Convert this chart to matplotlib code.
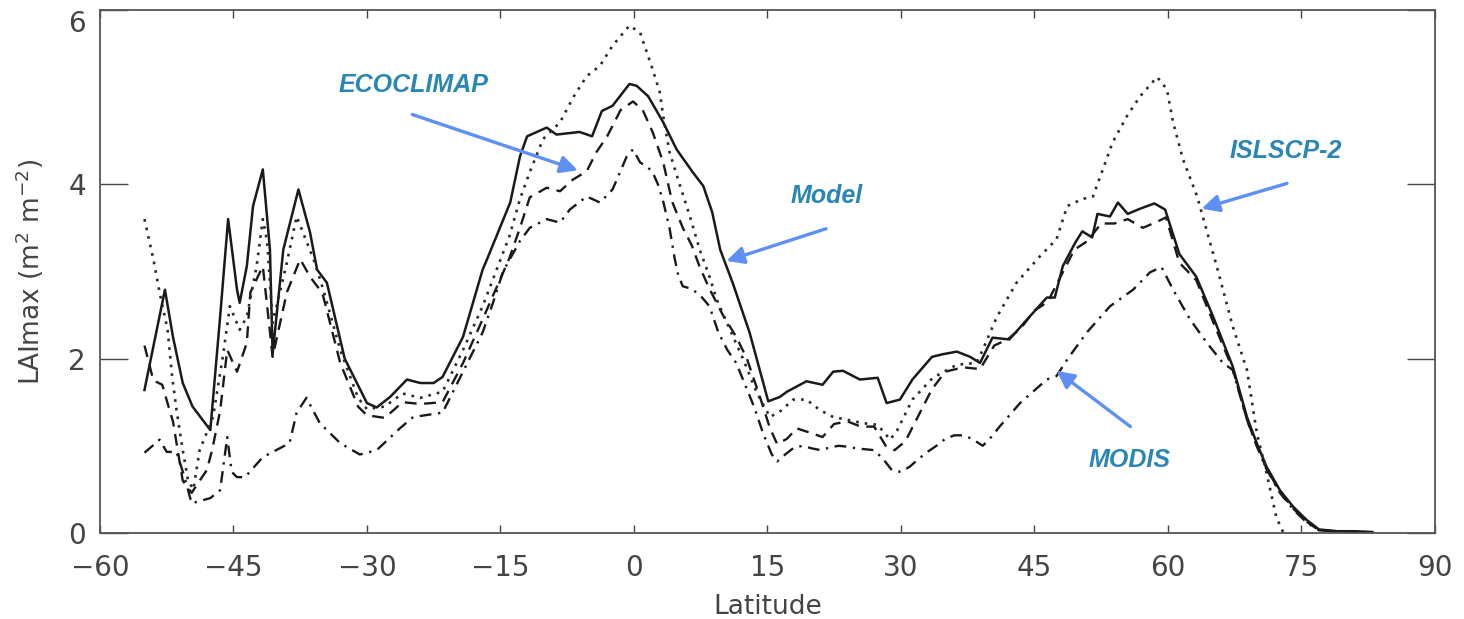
import matplotlib
matplotlib.use("Agg")
import matplotlib.pyplot as plt

# ---------------- data ----------------
lat_model = [-55, -52.7, -51.8, -50.7, -49.6, -47.6, -46.5, -45.6, -44.6, -44.3, -43.5, -42.8,
             -41.7, -40.9, -40.6, -39.4, -37.7, -36.4, -35.6, -34.5, -32.5, -30, -28.9, -27.4,
             -25.5, -24, -22.5, -21.5, -19.2, -17, -16.5, -13.9, -12.8, -12.0, -9.8, -8.7, -6.1,
             -4.7, -3.6, -2.4, -0.5, 0.3, 1.6, 3.3, 4.8, 6.6, 7.8, 8.8, 9.7, 11.1, 13.0, 15.1,
             16.4, 17.2, 19.4, 21.2, 22.4, 23.5, 25.4, 27.4, 28.4, 29.9, 31.3, 33.5, 34.7, 36.3,
             37.8, 38.9, 40.3, 42.2, 44.2, 46.4, 47.3, 48.2, 49.6, 50.4, 51.5, 52.1, 53.5, 54.4,
             55.5, 56.9, 58.5, 59.7, 61.3, 63.2, 65.1, 67.3, 68.9, 70.0, 71.1, 72.6, 74.1, 75.6,
             77.0, 79, 81, 83]
lai_model = [1.64, 2.79, 2.25, 1.72, 1.45, 1.18, 2.48, 3.60, 2.79, 2.64, 3.06, 3.75,
             4.17, 3.25, 2.05, 3.25, 3.94, 3.45, 3.02, 2.87, 2.00, 1.49, 1.44, 1.56,
             1.76, 1.72, 1.72, 1.79, 2.25, 3.02, 3.14, 3.79, 4.32, 4.55, 4.65, 4.57, 4.60,
             4.55, 4.84, 4.90, 5.15, 5.13, 5.01, 4.71, 4.40, 4.14, 3.98, 3.68, 3.25, 2.87, 2.30, 1.51,
             1.56, 1.62, 1.74, 1.70, 1.85, 1.86, 1.76, 1.78, 1.49, 1.53, 1.76, 2.02, 2.05, 2.08,
             2.02, 1.95, 2.24, 2.22, 2.45, 2.70, 2.70, 3.06, 3.33, 3.46, 3.39, 3.66, 3.63, 3.79,
             3.66, 3.72, 3.78, 3.71, 3.20, 2.94, 2.48, 1.91, 1.33, 1.03, 0.76, 0.49, 0.30, 0.15,
             0.04, 0.02, 0.02, 0.01]

lat_islscp = [-55, -54, -53.3, -52.4, -51.9, -51.4, -50.7, -50.1, -49.5, -48.8, -48, -47.3,
              -46.2, -45.4, -44.3, -43.5, -42.4, -41.7, -41.2, -40.9, -40.6, -39, -37.9, -37.2,
              -36, -34.9, -33, -31, -30, -28, -26, -24, -21.5, -19.2, -17, -15.5, -14, -12.8,
              -11.7, -10.2, -8.3, -6.8, -5.3, -3.8, -2.4, -0.5, 0.7, 2.1, 2.9, 3.3, 4.0, 5.2,
              6.3, 7.4, 8.5, 9.3, 10.5, 12.3, 13.8, 15.3, 16.5, 17.9, 19.4, 20.9, 22.4, 23.9,
              25.7, 27.4, 28.8, 29.6, 31.3, 33.6, 36.3, 38.5, 39.2, 40.8, 43.0, 45.6, 47.5, 48.7,
              50.4, 51.6, 52.7, 53.8, 55.4, 56.9, 58.8, 59.9, 60.6, 61.7, 63.3, 65.5, 67.3, 68.9,
              70.0, 71.1, 72.2, 73.0]
lai_islscp = [3.60, 3.14, 2.76, 2.33, 1.80, 1.41, 0.95, 0.60, 0.50, 0.95, 1.15, 1.33,
              2.02, 2.60, 2.33, 2.48, 3.06, 3.60, 3.33, 2.87, 2.41, 3.10, 3.63, 3.45,
              3.14, 2.79, 2.10, 1.55, 1.42, 1.45, 1.60, 1.55, 1.62, 2.10, 2.60, 3.00, 3.40, 3.83,
              4.14, 4.52, 4.71, 5.00, 5.24, 5.36, 5.59, 5.82, 5.74, 5.32, 5.06, 4.78, 4.37, 3.98,
              3.63, 3.25, 2.94, 2.68, 2.40, 1.99, 1.61, 1.33, 1.40, 1.53, 1.53, 1.41, 1.33, 1.30,
              1.26, 1.24, 1.07, 1.18, 1.53, 1.78, 1.93, 1.95, 2.10, 2.48, 2.87, 3.17, 3.37, 3.75,
              3.83, 3.86, 4.17, 4.48, 4.78, 5.01, 5.23, 5.09, 4.71, 4.29, 3.86, 3.06, 2.37, 1.87,
              1.15, 0.69, 0.18, 0.00]

lat_eco = [-55, -54, -53, -52.3, -51.8, -50.7, -49.7, -49, -48, -47.4, -46.5, -45.7, -44.6,
           -43.5, -43.1, -41.7, -40.6, -39, -37.5, -36.4, -35, -33, -31, -30, -28, -26, -24,
           -21.5, -19.2, -17, -15.5, -14, -12.8, -11.7, -9.8, -8.3, -6.9, -5.3, -4.2, -3.0,
           -1.5, -0.1, 1.0, 2.1, 3.3, 4.3, 5.5, 6.5, 7.4, 8.5, 10, 11.5, 12.7, 14.2, 15.3, 16.1,
           17.2, 18.3, 19.8, 21.2, 22.5, 24, 25.5, 27, 28.3, 29.3, 30.5, 32, 33.5, 35, 37, 38.9,
           40.5, 42, 43.5, 45, 46.5, 48, 49.5, 51, 52.5, 54, 55.5, 57.2, 58.8, 59.8, 61.3, 63.2,
           65.1, 67.3, 68.9, 70, 71.1, 72.6, 74.1, 75.6, 77, 79, 81, 83]
lai_eco = [2.15, 1.75, 1.70, 1.45, 1.28, 0.60, 0.46, 0.57, 0.72, 0.95, 1.40, 2.10, 1.85,
           2.18, 2.76, 3.06, 2.02, 2.76, 3.14, 2.94, 2.75, 1.95, 1.45, 1.35, 1.32, 1.50, 1.48,
           1.50, 1.95, 2.45, 2.80, 3.15, 3.50, 3.85, 3.96, 3.92, 4.05, 4.15, 4.37, 4.55,
           4.85, 4.95, 4.85, 4.60, 4.25, 3.80, 3.50, 3.30, 3.05, 2.80, 2.50, 2.25, 2.00, 1.55, 1.20, 1.02,
           1.08, 1.20, 1.15, 1.10, 1.25, 1.28, 1.22, 1.22, 1.00, 0.95, 1.05, 1.35, 1.65, 1.85, 1.90, 1.88,
           2.15, 2.22, 2.35, 2.55, 2.65, 2.95, 3.25, 3.35, 3.55, 3.55, 3.60, 3.50, 3.57, 3.62, 3.10, 2.90,
           2.42, 1.88, 1.30, 1.00, 0.74, 0.47, 0.28, 0.13, 0.03, 0.02, 0.01, 0.01]

lat_modis = [-55, -53.3, -52.5, -51.4, -50.5, -49.7, -47.6, -46.5, -45.7, -45.2, -44.6, -43.7,
             -41.7, -38.7, -37.9, -36.8, -35.3, -33, -30.8, -28.9, -26.3, -24.8, -21.5, -19.2,
             -17, -15.8, -14.7, -12.8, -11.7, -9.8, -8.3, -7.2, -5.3, -3.8, -2.4, -0.8, -0.1,
             0.7, 1.5, 2.1, 2.7, 3.3, 4.0, 4.6, 5.0, 5.5, 6.5, 7.5, 8.5, 9.5, 10.5, 11.5, 12.5,
             13.5, 14.5, 15.5, 16.1, 17, 18, 19, 20, 21, 22, 23, 24, 25, 26, 27, 28, 29, 30, 31,
             32, 33, 34, 35, 36, 37, 38, 39.2, 40, 41.1, 43.4, 46.4, 47.5, 48.7, 50.9, 53.5,
             56.1, 58, 59.3, 60.6, 62.5, 64.4, 66.2, 67.3, 68.9, 70, 71.1, 72.6, 74.1, 75.6, 77,
             79, 81, 83]
lai_modis = [0.92, 1.07, 0.93, 0.93, 0.64, 0.34, 0.40, 0.49, 1.10, 0.70, 0.64, 0.64,
             0.87, 1.03, 1.38, 1.55, 1.26, 1.03, 0.90, 0.95, 1.20, 1.33, 1.38, 1.85,
             2.30, 2.65, 3.00, 3.35, 3.50, 3.60, 3.56, 3.71, 3.86, 3.79, 3.94, 4.32, 4.40,
             4.25, 4.20, 4.14, 4.00, 3.80, 3.50, 3.14, 2.95, 2.83, 2.80, 2.72, 2.60, 2.30, 2.10, 1.95, 1.70,
             1.45, 1.15, 0.90, 0.82, 0.90, 0.98, 1.00, 0.97, 0.95, 0.98, 1.00, 0.99, 0.97, 0.96, 0.95, 0.85, 0.72, 0.70, 0.76,
             0.85, 0.93, 1.00, 1.08, 1.12, 1.12, 1.08, 1.00, 1.08, 1.22, 1.49, 1.76, 1.80, 1.99, 2.30, 2.60,
             2.79, 2.99, 3.05, 2.79, 2.45, 2.18, 1.95, 1.87, 1.30, 1.00, 0.73, 0.46, 0.27, 0.12, 0.03,
             0.02, 0.01, 0.01]

x_ticks = [-60, -45, -30, -15, 0, 15, 30, 45, 60, 75, 90]
y_ticks = [0, 2, 4, 6]

labels = ["ECOCLIMAP", "Model", "ISLSCP-2", "MODIS"]
label_xy = [(-24.8, 5.14), (21.7, 3.87), (73.3, 4.38), (55.7, 0.84)]
arrow_tail = [(-24.9, 4.80), (21.6, 3.49), (73.4, 4.01), (55.8, 1.22)]
arrow_head = [(-6.3, 4.16), (10.4, 3.12), (63.8, 3.72), (47.5, 1.86)]

# ---------------- figure ----------------
fig = plt.figure(figsize=(14.64, 6.19), dpi=100)
ax = fig.add_axes([0.0683, 0.139, 0.9117, 0.845])

line_col = "#1a1a1a"
ax.plot(lat_model, lai_model, color=line_col, lw=1.8, ls="-")
ax.plot(lat_eco, lai_eco, color=line_col, lw=1.7, ls=(0, (5, 3.2)))
ax.plot(lat_islscp, lai_islscp, color="#2a2a2a", lw=1.9, ls=(0, (1, 2.3)))
ax.plot(lat_modis, lai_modis, color=line_col, lw=1.7, ls=(0, (5, 2.8, 1, 2.8)))

ax.set_xlim(-60, 90)
ax.set_ylim(0, 6)
ax.set_xticks(x_ticks)
ax.set_xticklabels([str(t).replace("-", "\u2212") for t in x_ticks])
ax.set_yticks(y_ticks)
ax.set_yticklabels([str(t) for t in y_ticks])

tick_col = "#444444"
for s in ax.spines.values():
    s.set_color("#555555")
    s.set_linewidth(1.3)
ax.tick_params(axis="x", direction="in", length=6, width=1.0, top=True, bottom=True,
               labelsize=20, pad=15, colors=tick_col)
ax.tick_params(axis="y", direction="in", length=20, width=1.0, left=True, right=True,
               labelsize=20, pad=10, colors=tick_col)
ax.get_yticklabels()[-1].set_va("top")

ax.set_xlabel("Latitude", fontsize=19, color=tick_col, labelpad=9)
ax.set_ylabel("LAImax (m$^{2}$ m$^{-2}$)", fontsize=19, color=tick_col, labelpad=16)

txt_col = "#2a86b5"
arr_col = "#5d8ff5"
for lab, xy, tail, head in zip(labels, label_xy, arrow_tail, arrow_head):
    ax.text(xy[0], xy[1], lab, ha="center", va="center", fontsize=18,
            fontweight="bold", fontstyle="italic", family="Liberation Sans", color=txt_col)
    ax.annotate("", xy=head, xytext=tail,
                arrowprops=dict(arrowstyle="-|>", color=arr_col, lw=2.4,
                                mutation_scale=26, shrinkA=0, shrinkB=0))

fig.savefig("out.png", dpi=100)
